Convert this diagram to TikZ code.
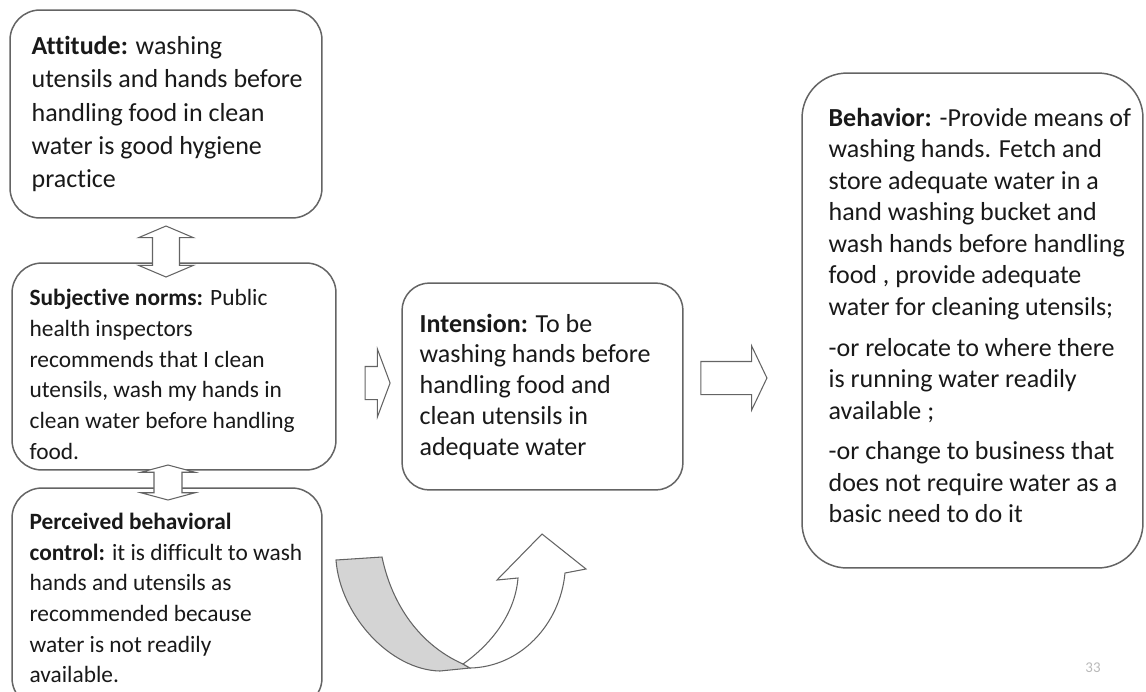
\documentclass[tikz,border=0pt]{standalone}
\usepackage{fontspec}
\setmainfont{Carlito}[Ligatures=NoCommon]
\usetikzlibrary{shapes.arrows}

\definecolor{boxline}{RGB}{100,100,100}
\definecolor{bandgray}{RGB}{212,212,212}

\tikzset{
  box/.style={draw=boxline, line width=0.85pt, fill=white, inner sep=0pt},
  txt/.style={anchor=west, align=left, inner sep=0pt, text=black!90,
              font=\fontsize{13.3}{17.5}\selectfont},
  bigtxt/.style={txt, font=\fontsize{14.8}{17.5}\selectfont},
  blockarrow/.style={single arrow, draw=boxline, line width=0.6pt, fill=white,
                     inner xsep=0pt, inner ysep=#1},
  twoway/.style={double arrow, draw=boxline, line width=0.6pt, fill=white,
                 inner xsep=0pt, inner ysep=#1, rotate=90},
}

\begin{document}
\begin{tikzpicture}[x=0.02cm,y=-0.02cm]

\pgfmathsetmacro{\pad}{0.36}

\clip (0,0) rectangle (1146,691);

% Boxes:
\node[box, rounded corners=0.6cm, minimum width=6.24cm, minimum height=4.16cm] (att) at (166,114) {};
\node[box, rounded corners=0.6cm, minimum width=6.48cm, minimum height=4.14cm] (sub) at (174,366.5) {};
\node[box, rounded corners=0.6cm, minimum width=6.20cm, minimum height=4.40cm] (per) at (167,598) {};
\node[box, rounded corners=0.55cm, minimum width=5.62cm, minimum height=4.14cm] (int) at (542.5,386.5) {};
\node[box, rounded corners=0.9cm, minimum width=6.82cm, minimum height=9.90cm] (beh) at (972.5,320.5) {};

% Texts:
\node[bigtxt, font=\fontsize{14.8}{18.9}\selectfont] (att-txt) at ([xshift=0.44cm]att.west)
  {\textbf{Attitude:} washing\\ utensils and hands before\\ handling food in clean\\ water is good hygiene\\ practice};
\node[txt] (sub-txt) at ([xshift=\pad cm, yshift=-0.16cm]sub.west)
  {\textbf{Subjective norms:} Public\\ health inspectors\\ recommends that I clean\\ utensils, wash my hands in\\ clean water before handling\\ food.};
\node[txt] (per-txt) at ([xshift=\pad cm]per.west)
  {\textbf{Perceived behavioral}\\ \textbf{control:} it is difficult to wash\\ hands and utensils as\\ recommended because\\ water is not readily\\ available.};
\node[bigtxt] (int-txt) at ([xshift=\pad cm]int.west)
  {\textbf{Intension:} To be\\ washing hands before\\ handling food and\\ clean utensils in\\ adequate water};
\node[bigtxt, font=\fontsize{14.8}{17.9}\selectfont] (beh-txt) at ([xshift=0.54cm, yshift=0.1cm]beh.west)
  {\textbf{Behavior:} -Provide means of\\ washing hands. Fetch and\\ store adequate water in a\\ hand washing bucket and\\ wash hands before handling\\ food , provide adequate\\ water for cleaning utensils;\\[5.6pt]
   -or relocate to where there\\ is running water readily\\ available ;\\[5.2pt]
   -or change to business that\\ does not require water as a\\ basic need to do it};

% Block arrows between the boxes:
\node[twoway=0.26cm, minimum height=1.02cm, minimum width=1.08cm,
      double arrow head extend=0.28cm, double arrow tip angle=134] (att-sub) at (166,251.5) {};
\node[twoway=0.27cm, minimum height=0.70cm, minimum width=1.06cm,
      double arrow head extend=0.26cm, double arrow tip angle=150] (sub-per) at (168,482.5) {};
\node[blockarrow=0.32cm, minimum height=0.50cm, minimum width=1.34cm,
      single arrow head extend=0.35cm, single arrow tip angle=139] (sub-int) at (374.5,383) {};
\node[blockarrow=0.32cm, minimum height=1.32cm, minimum width=1.26cm,
      single arrow head extend=0.31cm, single arrow tip angle=129] (int-beh) at (730,378) {};

% Curved arrow, back side first:
\draw[draw=boxline, line width=0.6pt, fill=bandgray]
  (336,560) -- (382,557) .. controls (392,605) and (420,645) .. (463,664)
  -- (470,668) -- (440,671) .. controls (390,670) and (340,615) .. (336,560) -- cycle;
\draw[draw=boxline, line width=0.6pt, fill=white]
  (463,664) .. controls (490,645) and (515,615) .. (518,578)
  -- (497,580) -- (542,534) -- (586,569) -- (565,573)
  .. controls (560,625) and (520,667) .. (470,668) -- cycle;

% Slide number:
\node[text=gray!55, font=\fontsize{8.5}{9}\selectfont] (pagenum) at (1093,668) {33};

\end{tikzpicture}
\end{document}
